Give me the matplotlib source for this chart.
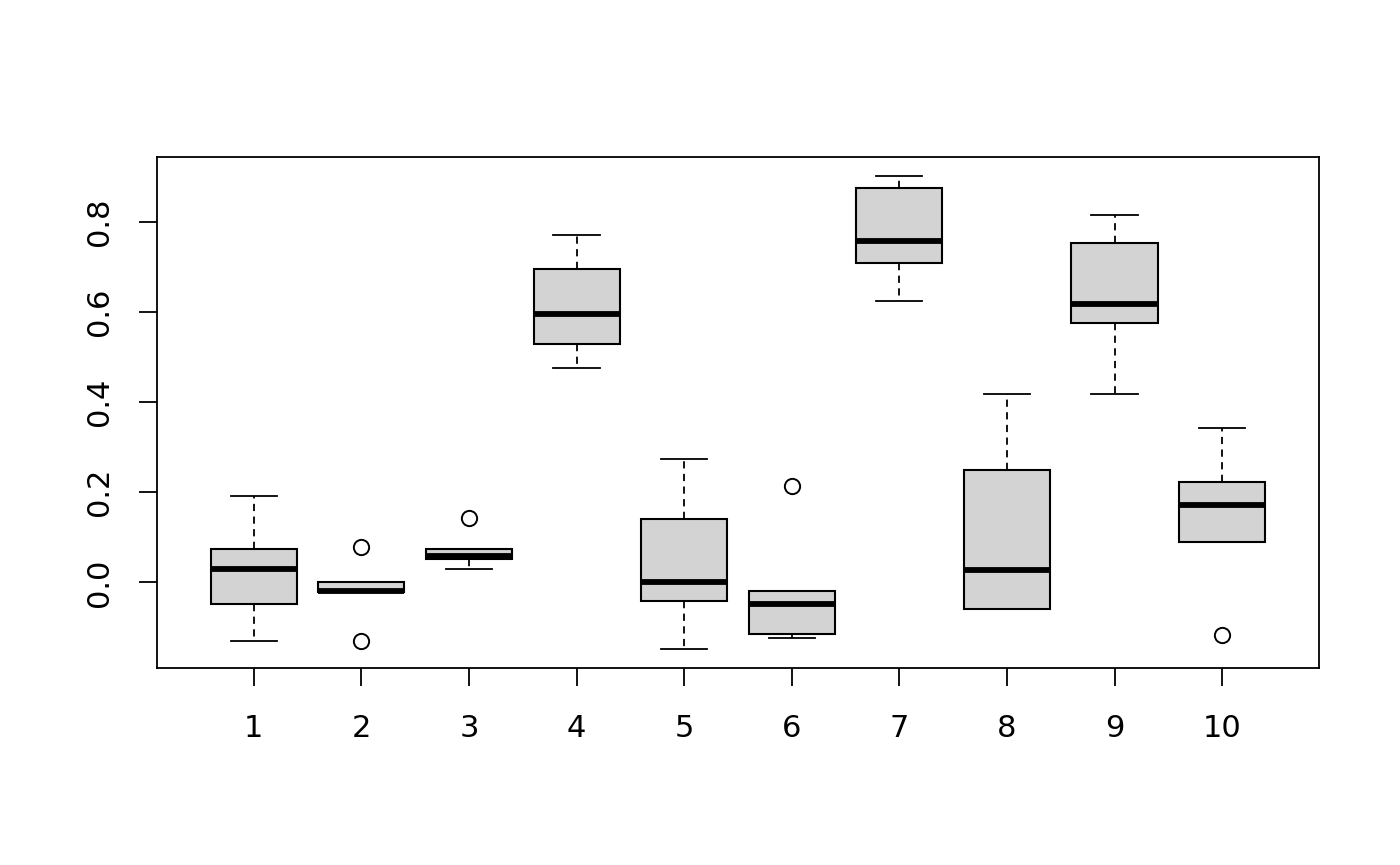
import matplotlib
matplotlib.use('Agg')
import matplotlib.pyplot as plt

# Box statistics
groups = ['1', '2', '3', '4', '5', '6', '7', '8', '9', '10']
whislo = [-0.131, -0.022, 0.029, 0.476, -0.148, -0.124, 0.625, -0.060, 0.419, 0.089]
q1 = [-0.049, -0.022, 0.051, 0.530, -0.042, -0.115, 0.709, -0.060, 0.576, 0.089]
med = [0.029, -0.018, 0.058, 0.596, 0.002, -0.049, 0.758, 0.027, 0.618, 0.171]
q3 = [0.075, 0.000, 0.075, 0.696, 0.140, -0.018, 0.875, 0.250, 0.753, 0.222]
whishi = [0.191, 0.000, 0.075, 0.771, 0.273, -0.018, 0.902, 0.419, 0.816, 0.343]
fliers = [[], [0.078, -0.129], [0.144], [], [], [0.213], [], [], [], [-0.117]]

stats = []
for i in range(len(groups)):
    stats.append({'label': groups[i], 'whislo': whislo[i], 'q1': q1[i],
                  'med': med[i], 'q3': q3[i], 'whishi': whishi[i],
                  'fliers': fliers[i]})

fig = plt.figure(figsize=(14, 8.65), dpi=100)
ax = fig.add_axes([0.1121, 0.2277, 0.83, 0.5908])

ax.bxp(stats, positions=range(1, len(groups) + 1), widths=0.8,
       patch_artist=True,
       boxprops=dict(facecolor='#d3d3d3', edgecolor='black', linewidth=1.5),
       medianprops=dict(color='black', linewidth=4.2, solid_capstyle='butt'),
       whiskerprops=dict(color='black', linewidth=1.3, linestyle=(0, (4, 3))),
       capprops=dict(color='black', linewidth=1.3),
       flierprops=dict(marker='o', markersize=11, markerfacecolor='none',
                       markeredgecolor='black', markeredgewidth=1.4),
       capwidths=0.43)

ax.set_xlim(0.1, 10.9)
ax.set_ylim(-0.19, 0.944)
ax.set_yticks([0.0, 0.2, 0.4, 0.6, 0.8])
ax.set_yticklabels(['0.0', '0.2', '0.4', '0.6', '0.8'], rotation=90, va='center')
ax.set_xticks(range(1, len(groups) + 1))
ax.set_xticklabels(groups)
ax.tick_params(axis='both', direction='out', length=13, width=1.3,
               labelsize=22, pad=20)
ax.tick_params(axis='y', pad=18)
for s in ax.spines.values():
    s.set_linewidth(1.3)

fig.savefig('out.png', dpi=100)
